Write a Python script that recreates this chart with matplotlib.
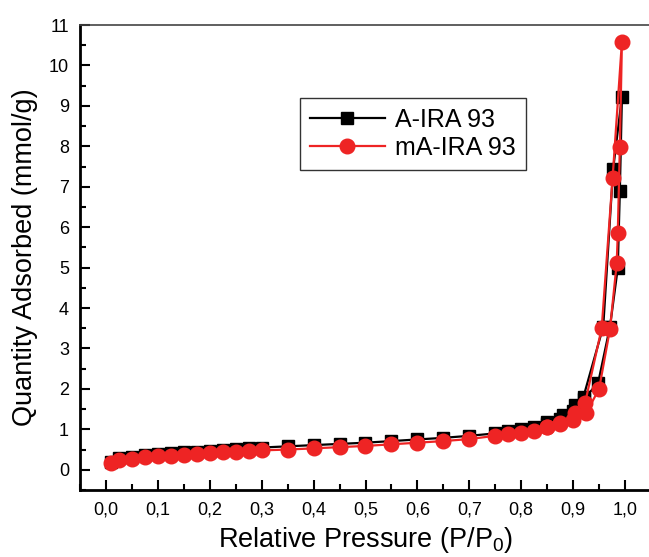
import matplotlib
matplotlib.use("Agg")
import matplotlib.pyplot as plt
from matplotlib.ticker import MultipleLocator, FuncFormatter
import numpy as np

plt.rcParams['font.family'] = ['Liberation Sans', 'DejaVu Sans']
plt.rcParams['mathtext.default'] = 'regular'

# A-IRA 93 (black squares): adsorption then desorption
p_a_ads = [0.01, 0.025, 0.05, 0.075, 0.10, 0.125, 0.15, 0.175, 0.20, 0.225, 0.25, 0.275, 0.30,
           0.35, 0.40, 0.45, 0.50, 0.55, 0.60, 0.65, 0.70, 0.75, 0.775, 0.80, 0.825, 0.85, 0.875,
           0.90, 0.92, 0.948, 0.971, 0.986, 0.990, 0.994]
q_a_ads = [0.20, 0.28, 0.32, 0.36, 0.39, 0.41, 0.43, 0.45, 0.47, 0.49, 0.51, 0.53, 0.55,
           0.58, 0.61, 0.64, 0.67, 0.71, 0.75, 0.79, 0.84, 0.90, 0.95, 1.00, 1.06, 1.13, 1.25,
           1.45, 1.75, 2.14, 3.54, 4.99, 6.90, 9.23]
p_a_des = [0.977, 0.958, 0.920, 0.904, 0.881, 0.849]
q_a_des = [7.43, 3.54, 1.81, 1.61, 1.36, 1.19]

# mA-IRA 93 (red circles): adsorption then desorption
p_m_ads = [0.01, 0.025, 0.05, 0.075, 0.10, 0.125, 0.15, 0.175, 0.20, 0.225, 0.25, 0.275, 0.30,
           0.35, 0.40, 0.45, 0.50, 0.55, 0.60, 0.65, 0.70, 0.75, 0.775, 0.80, 0.825, 0.85, 0.875,
           0.90, 0.925, 0.950, 0.971, 0.984, 0.986, 0.990, 0.994]
q_m_ads = [0.17, 0.24, 0.27, 0.31, 0.33, 0.35, 0.37, 0.39, 0.41, 0.43, 0.45, 0.47, 0.48,
           0.50, 0.53, 0.56, 0.59, 0.63, 0.67, 0.71, 0.76, 0.84, 0.88, 0.92, 0.97, 1.05, 1.12,
           1.22, 1.40, 2.00, 3.48, 5.11, 5.85, 7.99, 10.59]
p_m_des = [0.976, 0.955, 0.923, 0.904, 0.875, 0.849]
q_m_des = [7.21, 3.50, 1.65, 1.40, 1.15, 1.07]

fig = plt.figure(figsize=(6.49, 5.57), dpi=100)
ax = fig.add_axes([80/649, 67/557, 571/649, 465/557])

ax.plot(p_a_ads + p_a_des, q_a_ads + q_a_des, color='black', lw=1.6, marker='s',
        markersize=8.5, markerfacecolor='black', markeredgecolor='black', label='A-IRA 93')
ax.plot(p_m_ads + p_m_des, q_m_ads + q_m_des, color='#ee2424', lw=1.6, marker='o',
        markersize=10.5, markerfacecolor='#ee2424', markeredgecolor='#ee2424', label='mA-IRA 93')

ax.set_xlim(-0.05, 1.05)
ax.set_ylim(-0.5, 11)
ax.xaxis.set_major_locator(MultipleLocator(0.1))
ax.xaxis.set_minor_locator(MultipleLocator(0.05))
ax.yaxis.set_major_locator(MultipleLocator(1))
ax.yaxis.set_minor_locator(MultipleLocator(0.5))
ax.xaxis.set_major_formatter(FuncFormatter(lambda v, p: ('%.1f' % v).replace('.', ',') if v > -0.01 else ''))
ax.yaxis.set_major_formatter(FuncFormatter(lambda v, p: '%d' % round(v)))
ax.tick_params(which='major', direction='in', length=7, width=1.5, labelsize=13, pad=8)
ax.tick_params(which='minor', direction='in', length=4, width=1.5)
ax.tick_params(axis='y', which='both', left=True, right=False)
ax.tick_params(axis='x', which='both', bottom=True, top=False)

for s in ['left', 'bottom']:
    ax.spines[s].set_linewidth(2)
    ax.spines[s].set_color('black')
ax.spines['top'].set_linewidth(1.2)
ax.spines['top'].set_color('#444444')

ax.set_xlabel('Relative Pressure (P/P$_0$)', fontsize=19.5, labelpad=5)
ax.set_ylabel('Quantity Adsorbed (mmol/g)', fontsize=19.5, labelpad=8)

leg = ax.legend(loc='upper left', bbox_to_anchor=((300-80)/571, (490-98)/465),
                fontsize=18, frameon=True, fancybox=False, edgecolor='black',
                handlelength=3.0, borderpad=0.4, labelspacing=0.15, handletextpad=0.4,
                borderaxespad=0)
leg.get_frame().set_linewidth(1.0)

fig.savefig('out.png', dpi=100)
